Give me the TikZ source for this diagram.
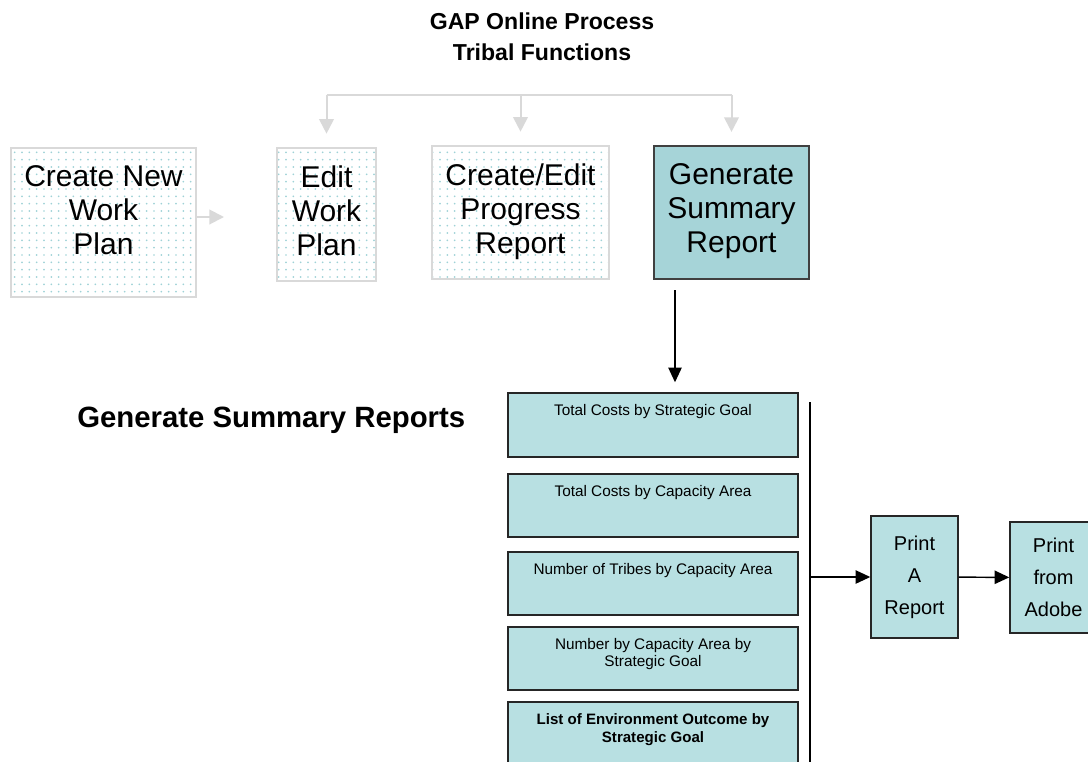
\documentclass[tikz,border=0pt]{standalone}
\usepackage{fontspec}
\setmainfont{Liberation Sans}
\usetikzlibrary{arrows.meta,calc,patterns.meta}
\definecolor{teal1}{HTML}{B8E0E2}
\definecolor{teal2}{HTML}{A6D4D8}
\definecolor{dotc}{HTML}{9FD2D6}
\definecolor{lgray}{HTML}{D9D9D9}
\begin{document}
\begin{tikzpicture}[x=0.75pt,y=-0.75pt,
  dbox/.style={draw=lgray,line width=1.5pt,pattern={Dots[distance=5.5pt,radius=0.7pt]},pattern color=dotc,minimum height=99.75pt},
  tbox/.style={draw=black!85,line width=1.1pt,fill=teal1},
  big/.style={anchor=north,inner sep=0pt,align=center,font=\fontsize{22.5}{25.5}\selectfont,label distance=-13.5pt},
  sml/.style={anchor=north,inner sep=0pt,align=center,font=\fontsize{11.5}{13}\selectfont,label distance=-9pt},
  garr/.style={draw=lgray,line width=1.5pt,-{Triangle[length=11pt,width=11pt]}},
  barr/.style={line width=1.1pt,-{Triangle[length=11pt,width=10pt]}}]
\useasboundingbox(0,0)rectangle(1088,761);
\node[inner sep=0pt,align=center,font=\fontsize{17.3}{23}\selectfont\bfseries](ttl)at(542,36.5){GAP Online Process\\Tribal Functions};
% tribal functions
\node[dbox,minimum width=138.75pt,minimum height=111.75pt,label={[big]north:{Create New\\Work\\Plan}}](cnwp)at(103.5,222.5){};
\node[dbox,minimum width=74.25pt,label={[big]north:{Edit\\Work\\Plan}}](ewp)at(326.5,214.5){};
\node[dbox,minimum width=132.75pt,label={[big]north:{Create/Edit\\Progress\\Report}}](cepr)at(520.5,212.5){};
\node[draw=black!75,line width=1.1pt,fill=teal2,minimum width=116.25pt,minimum height=99.75pt,label={[big]north:{Generate\\Summary\\Report}}](gsr)at(731.5,212.5){};
\coordinate(bus)at(520,95);\coordinate(mid)at(0,217);\coordinate(drop)at(675,0);
\draw[draw=lgray,line width=1.5pt](bus-|ewp)--(bus-|gsr);
\draw[garr,shorten >=10pt](bus-|ewp)--(ewp);\draw[garr,shorten >=10pt](bus-|cepr)--(cepr);\draw[garr,shorten >=10pt](bus-|gsr)--(gsr);
\draw[garr,shorten >=39pt](cnwp.east|-mid)--(ewp.west|-mid);
% summary reports
\node[anchor=base west,inner sep=0pt,font=\fontsize{22}{26}\selectfont\bfseries](gsrh)at(77,427){Generate Summary Reports};
\node[tbox,minimum width=217.5pt,minimum height=48pt,label={[sml]north:Total Costs by Strategic Goal}](r1)at(653,425){};
\node[tbox,minimum width=217.5pt,minimum height=47.25pt,label={[sml]north:Total Costs by Capacity Area}](r2)at(653,505.5){};
\node[tbox,minimum width=217.5pt,minimum height=47.25pt,label={[sml]north:Number of Tribes by Capacity Area}](r3)at(653,583.5){};
\node[tbox,minimum width=217.5pt,minimum height=47.25pt,label={[sml]north:{Number by Capacity Area by\\Strategic Goal}}](r4)at(653,658.5){};
\node[tbox,minimum width=217.5pt,minimum height=54.75pt,label={[sml,font=\fontsize{11.3}{13.5}\selectfont\bfseries]north:{List of Environment Outcome by\\Strategic Goal}}](r5)at(653,738.5){};
\draw[barr,shorten <=8pt,shorten >=7.5pt](gsr.south-|drop)--(r1.north-|drop);
% printing
\node[tbox,minimum width=65.25pt,minimum height=91.5pt,align=center,font=\fontsize{15}{24}\selectfont](pra)at(914.5,577){Print\\A\\Report};
\node[tbox,minimum width=65.25pt,minimum height=83.25pt,align=center,font=\fontsize{15}{24}\selectfont](pfa)at(1053.5,577.5){Print\\from\\Adobe};
\coordinate(bartop)at(810,402);\coordinate(barbot)at(810,775);
\draw[line width=1.1pt](bartop)--(barbot);
\draw[barr](bartop|-pra)--(pra);\draw[barr](pra)--(pfa);
\end{tikzpicture}
\end{document}
